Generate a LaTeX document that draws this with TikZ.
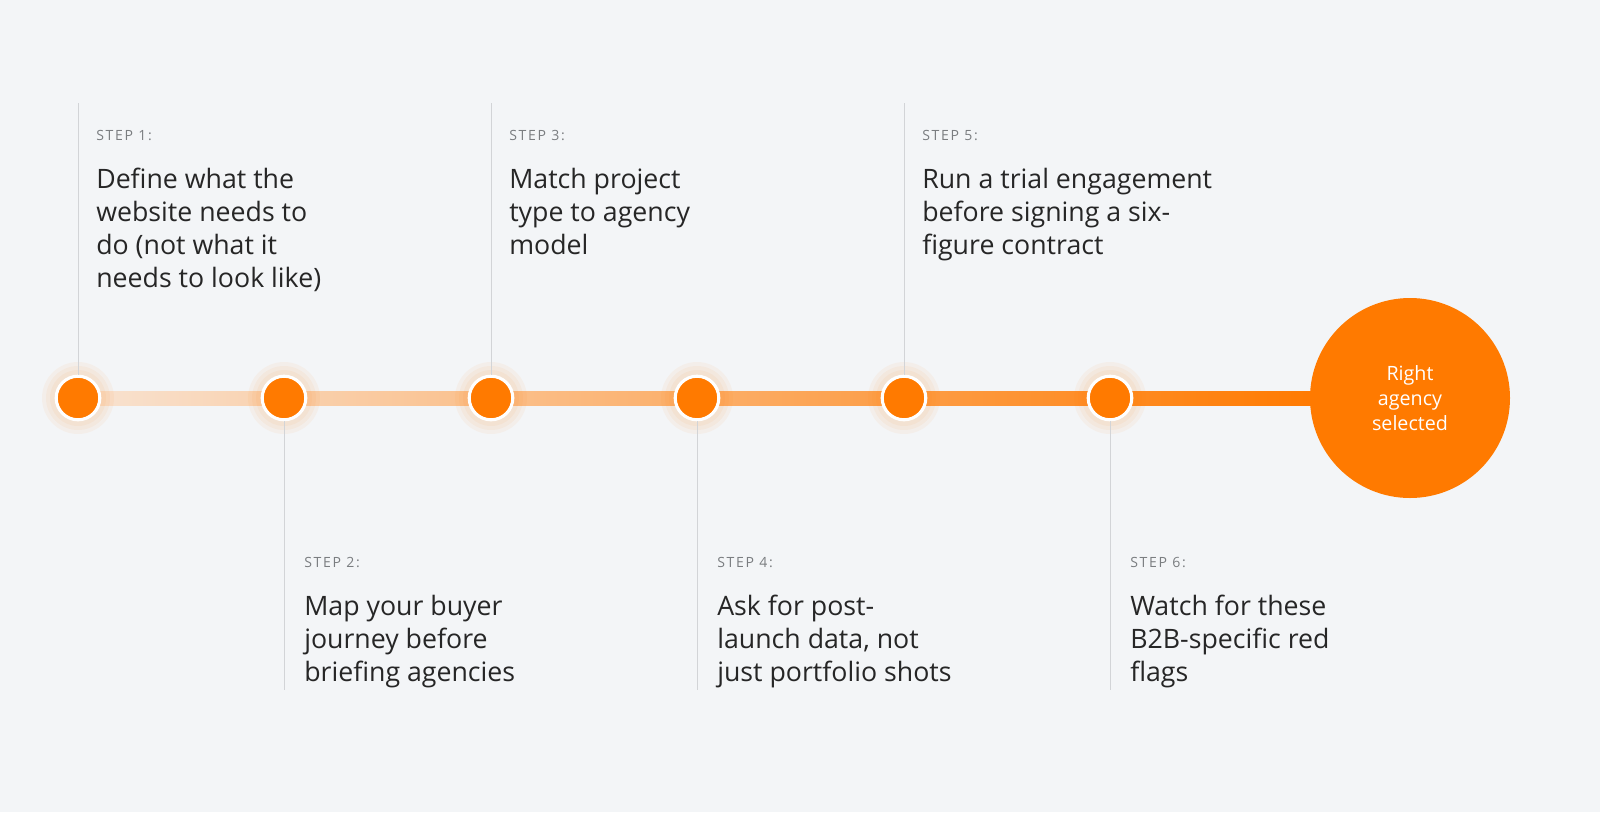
\documentclass[tikz,border=0pt]{standalone}
\usepackage{fontspec}
\setmainfont{Open Sans}
\usetikzlibrary{positioning}
\definecolor{bgcol}{HTML}{F3F5F7}
\definecolor{accent}{HTML}{FF7A00}
\definecolor{pale}{HTML}{F8E3D2}
\definecolor{rulecol}{HTML}{D2D4D7}
\definecolor{labelcol}{HTML}{7A7D80}
\tikzset{
  dot/.style = {circle, fill=accent, draw=white, line width=2.2pt, minimum size=31pt, inner sep=0pt},
  glow/.style = {circle, fill=accent, opacity=0.05, inner sep=0pt},
  stem/.style = {rulecol, line width=0.7pt},
  steplabel/.style = {anchor=north west, inner sep=0pt, text=labelcol, font=\fontsize{10}{12}\selectfont\addfontfeature{LetterSpace=12}},
  steptext/.style = {anchor=north west, inner sep=0pt, align=left, text=black!85, font=\fontsize{19}{23.5}\selectfont},
}
\begin{document}
\begin{tikzpicture}[x=0.025cm, y=-0.025cm]
    \fill[bgcol] (0,0) rectangle (1600,812);
    % timeline bar
    \shade[left color=pale, right color=accent] (78,391) rectangle (1320,405);
    % step nodes
    \foreach \n/\x in {1/78, 2/284, 3/491, 4/697, 5/904, 6/1110} {
        \foreach \r in {36,32,28} \node[glow, minimum size=\r*2*0.025cm] at (\x,398) {};
        \node[dot] (s\n) at (\x,398) {};
    }
    \node[circle, fill=accent, minimum size=200*0.025cm, inner sep=0pt, align=center, text=white,
          font=\fontsize{14}{17.5}\selectfont] (goal) at (1410,398) {Right\\agency\\selected};
    % upper steps
    \coordinate (t1) at (78,103);
    \coordinate (t3) at (491,103);
    \coordinate (t5) at (904,103);
    \draw[stem] (t1) -- (s1.north);
    \draw[stem] (t3) -- (s3.north);
    \draw[stem] (t5) -- (s5.north);
    \node[steplabel] (l1) at (96,130) {STEP 1:};
    \node[steptext] (d1) at (96,168) {Define what the\\website needs to\\do (not what it\\needs to look like)};
    \node[steplabel] (l3) at (509,130) {STEP 3:};
    \node[steptext] (d3) at (509,168) {Match project\\type to agency\\model};
    \node[steplabel] (l5) at (922,130) {STEP 5:};
    \node[steptext] (d5) at (922,168) {Run a trial engagement\\before signing a six-\\figure contract};
    % lower steps
    \coordinate (b2) at (284,690);
    \coordinate (b4) at (697,690);
    \coordinate (b6) at (1110,690);
    \draw[stem] (s2.south) -- (b2);
    \draw[stem] (s4.south) -- (b4);
    \draw[stem] (s6.south) -- (b6);
    \node[steplabel] (l2) at (304,557) {STEP 2:};
    \node[steptext] (d2) at (304,595) {Map your buyer\\journey before\\briefing agencies};
    \node[steplabel] (l4) at (717,557) {STEP 4:};
    \node[steptext] (d4) at (717,595) {Ask for post-\\launch data, not\\just portfolio shots};
    \node[steplabel] (l6) at (1130,557) {STEP 6:};
    \node[steptext] (d6) at (1130,595) {Watch for these\\B2B-specific red\\flags};
\end{tikzpicture}
\end{document}
